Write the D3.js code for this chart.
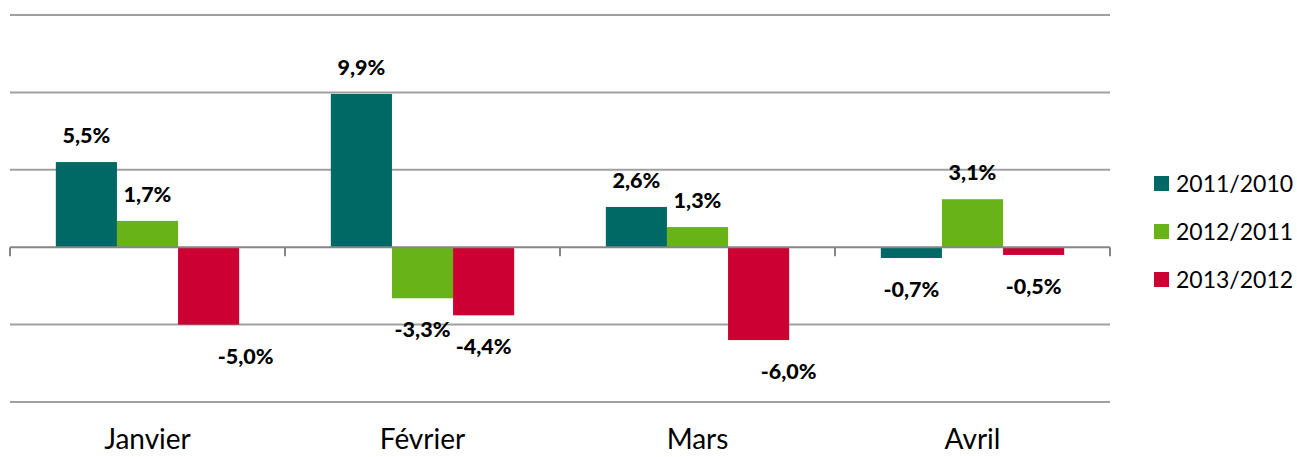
<!DOCTYPE html>
<html>
<head>
  <meta charset="utf-8">
  <title>Evolution mensuelle</title>
  <script src="https://d3js.org/d3.v7.min.js"></script>
  <style>
    body { margin: 0; background: #fff; }
    text { font-family: Lato, "Open Sans", sans-serif; fill: #000; }
  </style>
</head>
<body>
  <script>
    // Data
    var months = ["Janvier", "Février", "Mars", "Avril"];
    var seriesNames = ["2011/2010", "2012/2011", "2013/2012"];
    var v2011 = [5.5, 9.9, 2.6, -0.7];
    var v2012 = [1.7, -3.3, 1.3, 3.1];
    var v2013 = [-5.0, -4.4, -6.0, -0.5];
    var yTicks = [-10, -5, 0, 5, 10, 15];

    var colors = ["#006865", "#68b418", "#cc0033"];
    var values = [v2011, v2012, v2013];

    var width = 1297, height = 457;
    var svg = d3.select("body").append("svg")
      .attr("width", width).attr("height", height);

    var x0 = d3.scaleBand().domain(months).range([10, 1110]);
    // Excel style gap width of 150%
    var barW = x0.bandwidth() / 4.5;
    var x1 = d3.scaleBand().domain(seriesNames)
      .range([barW * 0.75, barW * 3.75]);
    var y = d3.scaleLinear().domain([-10, 15]).range([402, 15]);

    // horizontal gridlines
    svg.append("g").selectAll("line")
      .data(yTicks.filter(function (d) { return d !== 0; }))
      .enter().append("line")
      .attr("x1", 10).attr("x2", 1110)
      .attr("y1", function (d) { return y(d); })
      .attr("y2", function (d) { return y(d); })
      .attr("stroke", "#a0a0a0").attr("stroke-width", 2);

    // bars
    var rows = [];
    months.forEach(function (m, i) {
      seriesNames.forEach(function (s, j) {
        rows.push({ month: m, series: s, value: values[j][i], k: j });
      });
    });

    svg.append("g").selectAll("rect")
      .data(rows)
      .enter().append("rect")
      .attr("x", function (d) { return x0(d.month) + x1(d.series); })
      .attr("width", x1.bandwidth())
      .attr("y", function (d) { return y(Math.max(0, d.value)); })
      .attr("height", function (d) { return Math.abs(y(d.value) - y(0)); })
      .attr("fill", function (d) { return colors[d.k]; });

    // zero axis with ticks between categories
    svg.append("line")
      .attr("x1", 10).attr("x2", 1110)
      .attr("y1", y(0)).attr("y2", y(0))
      .attr("stroke", "#868686").attr("stroke-width", 2);
    svg.append("g").selectAll("line")
      .data(d3.range(months.length + 1))
      .enter().append("line")
      .attr("x1", function (i) { return 10 + i * x0.step(); })
      .attr("x2", function (i) { return 10 + i * x0.step(); })
      .attr("y1", y(0)).attr("y2", y(0) + 9)
      .attr("stroke", "#868686").attr("stroke-width", 2);

    // value labels (a couple were nudged right in the original)
    var nudge = { "Janvier|2013/2012": 37, "Mars|2013/2012": 30 };
    var fmt = function (v) { return v.toFixed(1).replace(".", ",") + "%"; };
    svg.append("g").selectAll("text")
      .data(rows)
      .enter().append("text")
      .attr("x", function (d) {
        return x0(d.month) + x1(d.series) + x1.bandwidth() / 2 + (nudge[d.month + "|" + d.series] || 0);
      })
      .attr("y", function (d) {
        return d.value >= 0 ? y(d.value) - 19 : y(d.value) + 39;
      })
      .attr("text-anchor", "middle")
      .style("font-size", "21.5px")
      .style("font-weight", "900")
      .text(function (d) { return fmt(d.value); });

    // month labels
    svg.append("g").selectAll("text")
      .data(months)
      .enter().append("text")
      .attr("x", function (d) { return x0(d) + x0.bandwidth() / 2; })
      .attr("y", 449)
      .attr("text-anchor", "middle")
      .style("font-size", "28px")
      .text(function (d) { return d; });

    // legend
    var legend = svg.append("g").selectAll("g")
      .data(seriesNames)
      .enter().append("g")
      .attr("transform", function (d, i) { return "translate(1154," + (176 + i * 48) + ")"; });
    legend.append("rect")
      .attr("width", 15).attr("height", 15)
      .attr("fill", function (d, i) { return colors[i]; });
    legend.append("text")
      .attr("x", 22).attr("y", 16)
      .style("font-size", "23px")
      .text(function (d) { return d; });
  </script>
</body>
</html>
